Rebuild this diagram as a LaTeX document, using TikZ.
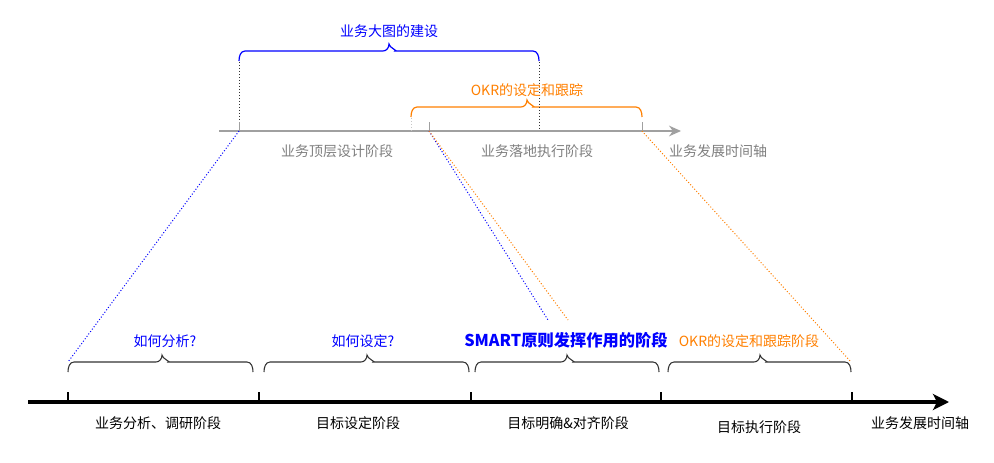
\documentclass[tikz,border=0pt]{standalone}
\usepackage{fontspec}
\setmainfont{Noto Sans CJK SC}
\usetikzlibrary{arrows.meta}
\definecolor{myblue}{HTML}{0000FF}
\definecolor{myorange}{HTML}{FF8000}
\definecolor{axgray}{HTML}{A0A0A0}
\definecolor{txtgray}{HTML}{808080}
\definecolor{brk}{HTML}{333333}
\newcommand{\cbrace}[5]{%
  \draw[#1] (#2,#4+10) to[out=90,in=180] (#2+6,#4) -- (#5-6,#4)
    to[out=0,in=-90] (#5,#4-7) to[out=-90,in=0] (#5+6,#4) -- (#3-6,#4)
    to[out=0,in=90] (#3,#4+10);}
\begin{document}
\begin{tikzpicture}[x=0.75pt,y=-0.75pt,
  lbl/.style={inner sep=0pt,font=\fontsize{10.5pt}{12pt}\selectfont},
  bluelbl/.style={lbl,text=myblue},
  orglbl/.style={lbl,text=myorange},
  graylbl/.style={lbl,text=txtgray},
  blklbl/.style={lbl,text=black},
  dotline/.style={line width=0.75pt,dash pattern=on 0.75pt off 1.5pt},
  tickg/.style={axgray,line width=0.75pt},
  tickb/.style={black,line width=1.5pt}]
\useasboundingbox (0,0) rectangle (994,463);
\fill[white] (0,0) rectangle (994,463);

% ---- top axis ----
\coordinate (ta0) at (219,131);
\coordinate (ta1) at (681,131);
\draw[axgray,line width=1.1pt,-{Stealth[length=9pt,width=8pt]}] (ta0) -- (ta1);
\coordinate (tk1) at (239,131); \coordinate (tk1u) at (239,122);
\coordinate (tk2) at (429,131); \coordinate (tk2u) at (429,122);
\coordinate (tk3) at (642,131); \coordinate (tk3u) at (642,122);
\draw[tickg] (tk1) -- (tk1u);
\draw[tickg] (tk2) -- (tk2u);
\draw[tickg] (tk3) -- (tk3u);

% top braces
\cbrace{myblue,line width=0.9pt}{239}{539}{51}{389}
\cbrace{myorange,line width=0.9pt}{411}{642}{107}{527}
\coordinate (bb1) at (239,62); \coordinate (bb2) at (539,62);
\coordinate (bb2a) at (539,131);
\coordinate (ob1) at (411,118); \coordinate (ob1a) at (411,131);
\draw[dotline,brk] (bb1) -- (tk1u);
\draw[dotline,brk] (bb2) -- (bb2a);
\draw[dotline,axgray!60] (ob1) -- (ob1a);

\node[bluelbl] (tBig) at (389,31) {业务大图的建设};
\node[orglbl] (tOkr) at (527,90) {OKR的设定和跟踪};
\node[graylbl] (g1) at (337,151) {业务顶层设计阶段};
\node[graylbl] (g2) at (537,151) {业务落地执行阶段};
\node[graylbl] (g3) at (718,151) {业务发展时间轴};

% ---- bottom axis ----
\coordinate (ba0) at (28,402);
\coordinate (ba1) at (949,402);
\draw[black,line width=2.3pt,-{Stealth[length=12pt,width=12pt,inset=3pt]}] (ba0) -- (ba1);
\foreach \x/\n in {68/1,259/2,471/3,661/4,852/5}{
  \coordinate (bt\n) at (\x,402); \coordinate (bt\n u) at (\x,392);
  \draw[tickb] (bt\n) -- (bt\n u);}

\cbrace{brk,line width=0.8pt}{68}{253}{362}{162}
\cbrace{brk,line width=0.8pt}{264}{469}{362}{367}
\cbrace{brk,line width=0.8pt}{475}{659}{362}{567}
\cbrace{brk,line width=0.8pt}{668}{851}{362}{760}
\coordinate (lb1) at (68,362);
\coordinate (lb4) at (851,362);
\coordinate (sb) at (548,320);
\coordinate (so) at (568,320);

% dotted projections
\draw[dotline,myblue] (tk1) -- (lb1);
\draw[dotline,myblue] (tk2) -- (sb);
\draw[dotline,myorange] (tk2) -- (so);
\draw[dotline,myorange] (tk3) -- (lb4);

\node[bluelbl] (q1) at (165,341) {如何分析?};
\node[bluelbl] (q2) at (363,341) {如何设定?};
\node[lbl,text=myblue,font=\fontsize{12.2pt}{14pt}\selectfont\bfseries] (smart) at (566,340) {SMART原则发挥作用的阶段};
\node[orglbl] (okr2) at (749,341) {OKR的设定和跟踪阶段};

\node[blklbl] (s1) at (158,423) {业务分析、调研阶段};
\node[blklbl] (s2) at (358,423) {目标设定阶段};
\node[blklbl] (s3) at (568,423) {目标明确\&对齐阶段};
\node[blklbl] (s4) at (759,427) {目标执行阶段};
\node[blklbl] (s5) at (920,423) {业务发展时间轴};
\end{tikzpicture}
\end{document}
